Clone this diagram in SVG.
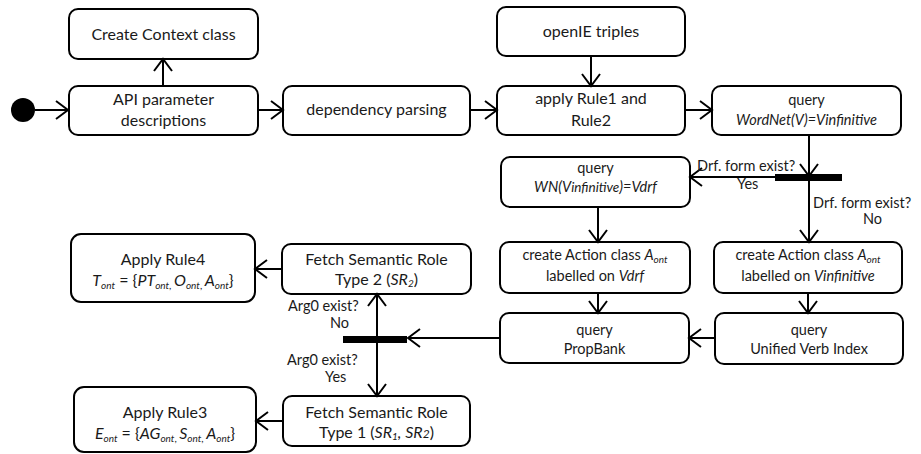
<svg xmlns="http://www.w3.org/2000/svg" width="921" height="454" viewBox="0 0 921 454">
<defs>
<marker id="arr" markerUnits="userSpaceOnUse" markerWidth="16" markerHeight="22" viewBox="0 0 16 22" refX="14" refY="11" orient="auto">
<path d="M2,2 L14,11 L2,20" fill="none" stroke="#000" stroke-width="2"/>
</marker>
</defs>
<style>
.box{fill:#fff;stroke:#000;stroke-width:2}
.bar{fill:#000}
.t{font-family:Lato,"Liberation Sans",sans-serif;font-size:16px;fill:#1a1a1a;text-anchor:middle}
.s{font-size:14.5px}
.l{font-family:Lato,"Liberation Sans",sans-serif;font-size:14.5px;fill:#1a1a1a}
.i{font-style:italic}
.sub{font-style:italic;font-size:10px}
.c{fill:none;stroke:#000;stroke-width:2;marker-end:url(#arr)}
</style>

<circle id="start" cx="23" cy="110" r="12" fill="#000"/>

<g id="n_context"><rect class="box" x="69" y="9" width="189" height="50" rx="9"/><text class="t" x="163.5" y="40">Create Context class</text></g>
<g id="n_api"><rect class="box" x="69" y="86" width="189" height="49" rx="9"/><text class="t" x="163.5" y="105">API parameter</text><text class="t" x="163.5" y="126">descriptions</text></g>
<g id="n_dep"><rect class="box" x="283" y="86" width="187" height="49" rx="9"/><text class="t" x="376.5" y="115">dependency parsing</text></g>
<g id="n_openie"><rect class="box" x="497" y="7" width="188" height="49" rx="9"/><text class="t" x="591" y="37">openIE triples</text></g>
<g id="n_apply"><rect class="box" x="497" y="86" width="188" height="49" rx="9"/><text class="t" x="591" y="104">apply Rule1 and</text><text class="t" x="591" y="126">Rule2</text></g>
<g id="n_wordnet"><rect class="box" x="712" y="86" width="189" height="49" rx="9"/><text class="t s" x="806.5" y="105">query</text><text class="t s i" x="806.5" y="125">WordNet(V)=Vinfinitive</text></g>
<g id="n_wn"><rect class="box" x="501" y="157" width="189" height="50" rx="9"/><text class="t s" x="595.5" y="173">query</text><text class="t s i" x="595.5" y="192">WN(V<tspan font-size="13.5px">infinitive</tspan>)=Vdrf</text></g>
<g id="n_createL"><rect class="box" x="500" y="242" width="190" height="51" rx="9"/><text class="t s" x="595" y="260">create Action class <tspan class="i">A</tspan><tspan class="sub" dy="3">ont</tspan></text><text class="t s" x="595" y="281">labelled on <tspan class="i">Vdrf</tspan></text></g>
<g id="n_createR"><rect class="box" x="714" y="242" width="188" height="51" rx="9"/><text class="t s" x="808" y="260">create Action class <tspan class="i">A</tspan><tspan class="sub" dy="3">ont</tspan></text><text class="t s" x="808" y="281">labelled on <tspan class="i">Vinfinitive</tspan></text></g>
<g id="n_propbank"><rect class="box" x="500" y="313" width="189" height="50" rx="9"/><text class="t s" x="594.5" y="335">query</text><text class="t s" x="594.5" y="354">PropBank</text></g>
<g id="n_uvi"><rect class="box" x="715" y="313" width="188" height="51" rx="9"/><text class="t s" x="809" y="335">query</text><text class="t s" x="809" y="354">Unified Verb Index</text></g>
<g id="n_fetch2"><rect class="box" x="282" y="244" width="189" height="50" rx="9"/><text class="t" x="376.5" y="265">Fetch Semantic Role</text><text class="t" x="376.5" y="285">Type 2 (<tspan class="i">SR</tspan><tspan class="sub" dy="2">2</tspan><tspan dy="-2">)</tspan></text></g>
<g id="n_rule4"><rect class="box" x="71" y="234" width="184" height="68" rx="10"/><text class="t" x="163" y="265">Apply Rule4</text><text class="t" x="163" y="286"><tspan class="i">T</tspan><tspan class="sub" dy="3">ont</tspan><tspan dy="-3"> = {</tspan><tspan class="i">PT</tspan><tspan class="sub" dy="3">ont</tspan><tspan font-size="10px">, </tspan><tspan class="i" dy="-3">O</tspan><tspan class="sub" dy="3">ont</tspan><tspan font-size="10px">, </tspan><tspan class="i" dy="-3">A</tspan><tspan class="sub" dy="3">ont</tspan><tspan dy="-3">}</tspan></text></g>
<g id="n_fetch1"><rect class="box" x="283" y="396" width="187" height="50" rx="9"/><text class="t" x="376.5" y="418">Fetch Semantic Role</text><text class="t" x="376.5" y="438">Type 1 (<tspan class="i">SR</tspan><tspan class="sub" dy="2">1</tspan><tspan class="i" dy="-2">, SR</tspan><tspan class="i" font-size="12px">2</tspan>)</text></g>
<g id="n_rule3"><rect class="box" x="74" y="387" width="182" height="65" rx="10"/><text class="t" x="165" y="418">Apply Rule3</text><text class="t" x="165" y="439"><tspan class="i">E</tspan><tspan class="sub" dy="3">ont</tspan><tspan dy="-3"> = {</tspan><tspan class="i">AG</tspan><tspan class="sub" dy="3">ont</tspan><tspan font-size="10px">, </tspan><tspan class="i" dy="-3">S</tspan><tspan class="sub" dy="3">ont</tspan><tspan font-size="10px">, </tspan><tspan class="i" dy="-3">A</tspan><tspan class="sub" dy="3">ont</tspan><tspan dy="-3">}</tspan></text></g>

<g id="bar1"><rect class="bar" x="775" y="174" width="67" height="7"/></g>
<g id="bar2"><rect class="bar" x="343" y="336" width="64" height="7"/></g>

<g id="connectors">
<path class="c" d="M35,110 H68"/>
<path class="c" d="M163,86 V59"/>
<path class="c" d="M258,110 H283"/>
<path class="c" d="M470,110 H497"/>
<path class="c" d="M591,56 V86"/>
<path class="c" d="M685,110 H712"/>
<path class="c" d="M809,135 V176"/>
<path class="c" d="M809,177 H690"/>
<path class="c" d="M809,181 V242"/>
<path class="c" d="M598,207 V242"/>
<path class="c" d="M598,293 V313"/>
<path class="c" d="M808,293 V313"/>
<path class="c" d="M715,338 H689"/>
<path class="c" d="M500,338 H408"/>
<path class="c" d="M377,336 V294"/>
<path class="c" d="M377,342 V396"/>
<path class="c" d="M282,269 H255"/>
<path class="c" d="M283,421 H256"/>
</g>

<g id="labels">
<text class="l" x="697" y="171">Drf. form exist?</text>
<text class="l" x="737" y="189">Yes</text>
<text class="l" x="813" y="208">Drf. form exist?</text>
<text class="l" x="863" y="224">No</text>
<text class="l" x="288" y="311">Arg0 exist?</text>
<text class="l" x="330" y="328">No</text>
<text class="l" x="287" y="365">Arg0 exist?</text>
<text class="l" x="325" y="382">Yes</text>
</g>
</svg>
